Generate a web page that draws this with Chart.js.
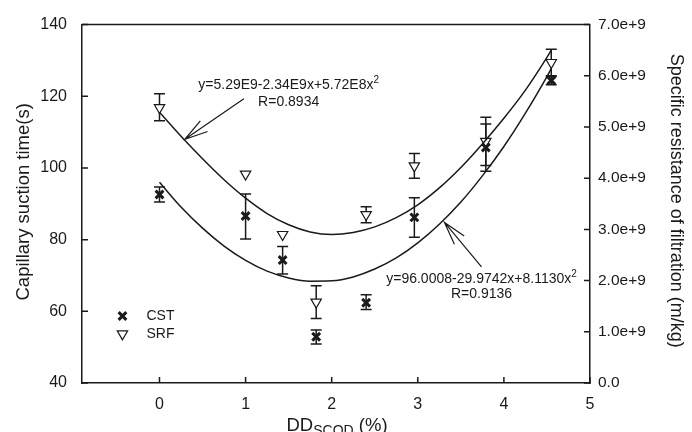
<!DOCTYPE html>
<html><head><meta charset="utf-8">
<script src="https://cdn.jsdelivr.net/npm/chart.js@4.4.0/dist/chart.umd.min.js"></script>
<style>html,body{margin:0;padding:0;background:#fff;}canvas{display:block;}</style>
</head><body>
<canvas id="c" width="692" height="432"></canvas>
<script>
// ---- tick labels ----
const xTicks = [0, 1, 2, 3, 4, 5];
const leftTicks = [40, 60, 80, 100, 120, 140];
const rightTicks = [0, 1e9, 2e9, 3e9, 4e9, 5e9, 6e9, 7e9];

// ---- measured points ----
const doseX = [0, 1.0, 1.43, 1.82, 2.40, 2.96, 3.79, 4.55];
const cstY = [92.6, 86.6, 74.3, 52.9, 62.4, 86.2, 105.7, 124.4];
const cstErrLow = [90.5, 80.2, 70.4, 50.9, 60.5, 80.7, 99.1, 123.2];
const cstErrHigh = [94.7, 92.7, 78.1, 54.8, 64.6, 91.7, 112.3, 125.5];
const srfY = [5.38e9, 4.08e9, 2.90e9, 1.58e9, 3.29e9, 4.24e9, 4.72e9, 6.26e9];
const srfErrLow = [5.12e9, null, null, 1.26e9, 3.13e9, 4.00e9, 4.25e9, 6.00e9];
const srfErrHigh = [5.65e9, null, null, 1.90e9, 3.44e9, 4.48e9, 5.19e9, 6.52e9];

// ---- fitted curves ----
const fitX = [0, 0.25, 0.5, 0.75, 1, 1.25, 1.5, 1.75, 2, 2.25, 2.5, 2.75, 3, 3.25, 3.5, 3.75, 4, 4.25, 4.5, 4.55];
const cstFitY = [96.0, 89.1, 83.2, 78.2, 74.2, 71.2, 69.3, 68.4, 68.5, 69.6, 71.8, 74.9, 79.1, 84.3, 90.5, 97.8, 106.0, 115.3, 125.5, 127.7];
const srfFitY = [5.29e9, 4.82e9, 4.38e9, 3.97e9, 3.61e9, 3.31e9, 3.09e9, 2.95e9, 2.90e9, 2.94e9, 3.05e9, 3.23e9, 3.48e9, 3.81e9, 4.21e9, 4.67e9, 5.17e9, 5.72e9, 6.36e9, 6.50e9];

// ---- series names & annotation texts ----
const seriesNames = ['CST', 'SRF'];
const srfEq = ['y=5.29E9-2.34E9x+5.72E8x', '2', 'R=0.8934'];
const cstEq = ['y=96.0008-29.9742x+8.1130x', '2', 'R=0.9136'];

const FONT = '"Liberation Sans", Arial, Helvetica, sans-serif';
const INK = '#1a1a1a';

const pts = (xs, ys) => xs.map((x, i) => ({x: x, y: ys[i]}));

const cstStyle = {pointStyle: 'crossRot', radius: 5.5, borderWidth: 3, rotation: 0};
const srfStyle = {pointStyle: 'triangle', radius: 6, borderWidth: 1.2, rotation: 180};

const errorBars = {
  id: 'errorBars',
  beforeDatasetsDraw(chart) {
    const {ctx, scales} = chart;
    const cap = 5.5;
    ctx.save();
    ctx.strokeStyle = INK; ctx.lineWidth = 1.5;
    const draw = (lo, hi, sy) => {
      doseX.forEach((x, i) => {
        if (lo[i] == null) return;
        const px = scales.x.getPixelForValue(x);
        const y1 = sy.getPixelForValue(lo[i]), y2 = sy.getPixelForValue(hi[i]);
        ctx.beginPath();
        ctx.moveTo(px, y1); ctx.lineTo(px, y2);
        ctx.moveTo(px - cap, y1); ctx.lineTo(px + cap, y1);
        ctx.moveTo(px - cap, y2); ctx.lineTo(px + cap, y2);
        ctx.stroke();
      });
    };
    draw(cstErrLow, cstErrHigh, scales.y);
    draw(srfErrLow, srfErrHigh, scales.y2);
    ctx.restore();
  }
};

const decor = {
  id: 'decor',
  afterDraw(chart) {
    const {ctx, chartArea: a, scales} = chart;
    const X = v => scales.x.getPixelForValue(v);
    const Y = v => scales.y.getPixelForValue(v);
    ctx.save();
    ctx.strokeStyle = INK; ctx.lineWidth = 1.5;
    // top border
    ctx.beginPath(); ctx.moveTo(a.left, a.top); ctx.lineTo(a.right, a.top); ctx.stroke();
    // inward ticks
    const tl = 6;
    ctx.beginPath();
    xTicks.forEach(v => { const p = X(v); ctx.moveTo(p, a.bottom); ctx.lineTo(p, a.bottom - tl); });
    leftTicks.forEach(v => { const p = Y(v); ctx.moveTo(a.left, p); ctx.lineTo(a.left + tl, p); });
    rightTicks.forEach(v => { const p = scales.y2.getPixelForValue(v); ctx.moveTo(a.right, p); ctx.lineTo(a.right - tl, p); });
    ctx.stroke();

    // arrows (annotation, in data coordinates of x / left y)
    const arrow = (from, to) => {
      const x1 = X(from[0]), y1 = Y(from[1]), x2 = X(to[0]), y2 = Y(to[1]);
      const ang = Math.atan2(y1 - y2, x1 - x2);
      const L = 24, s = 0.27;
      ctx.lineWidth = 1.2;
      ctx.beginPath();
      ctx.moveTo(x1, y1); ctx.lineTo(x2, y2);
      ctx.moveTo(x2 + L * Math.cos(ang - s), y2 + L * Math.sin(ang - s)); ctx.lineTo(x2, y2);
      ctx.lineTo(x2 + L * Math.cos(ang + s), y2 + L * Math.sin(ang + s));
      ctx.stroke();
    };
    arrow([0.98, 119.3], [0.295, 108.0]);
    arrow([3.74, 72.4], [3.31, 84.8]);

    // equations
    ctx.fillStyle = INK;
    const eq = (t, cx, base1, base2) => {
      ctx.textBaseline = 'alphabetic'; ctx.textAlign = 'left';
      ctx.font = '14px ' + FONT; const w1 = ctx.measureText(t[0]).width;
      ctx.font = '10px ' + FONT; const w2 = ctx.measureText(t[1]).width;
      const px = X(cx), start = px - (w1 + w2) / 2;
      ctx.font = '14px ' + FONT; ctx.fillText(t[0], start, Y(base1));
      ctx.font = '10px ' + FONT; ctx.fillText(t[1], start + w1, Y(base1) - 6);
      ctx.font = '14px ' + FONT; ctx.textAlign = 'center';
      ctx.fillText(t[2], px, Y(base2));
    };
    eq(srfEq, 1.50, 121.9, 117.3);
    eq(cstEq, 3.74, 67.8, 63.7);

    // legend
    const lx = X(-0.43);
    const rows = [[seriesNames[0], cstStyle, 58.7], [seriesNames[1], srfStyle, 53.7]];
    rows.forEach(([name, st, yv]) => {
      const py = Y(yv);
      ctx.strokeStyle = INK; ctx.fillStyle = '#fff'; ctx.lineWidth = st.borderWidth;
      Chart.helpers.drawPoint(ctx, st, lx, py);
      ctx.fillStyle = INK; ctx.font = '14px ' + FONT;
      ctx.textAlign = 'left'; ctx.textBaseline = 'middle';
      ctx.fillText(name, lx + 24, py);
    });

    // axis titles
    ctx.fillStyle = INK;
    ctx.font = '18.5px ' + FONT;
    ctx.textAlign = 'center'; ctx.textBaseline = 'middle';
    ctx.save(); ctx.translate(24, (a.top + a.bottom) / 2 - 2); ctx.rotate(-Math.PI / 2);
    ctx.fillText('Capillary suction time(s)', 0, 0); ctx.restore();
    ctx.save(); ctx.translate(676, (a.top + a.bottom) / 2 - 3); ctx.rotate(Math.PI / 2);
    ctx.font = '18px ' + FONT;
    ctx.fillText('Specific resistance of filtration (m/kg)', 0, 0); ctx.restore();
    // x title with subscript
    ctx.textBaseline = 'alphabetic'; ctx.textAlign = 'left';
    ctx.font = '18.5px ' + FONT; const wa = ctx.measureText('DD').width; const wc = ctx.measureText(' (%)').width;
    ctx.font = '14px ' + FONT; const wb = ctx.measureText('SCOD').width;
    const cx = (a.left + a.right) / 2 + 1, tot = wa + wb + wc, sx = cx - tot / 2, base = 430.5;
    ctx.font = '18.5px ' + FONT; ctx.fillText('DD', sx, base);
    ctx.font = '14px ' + FONT; ctx.fillText('SCOD', sx + wa, base + 4);
    ctx.font = '18.5px ' + FONT; ctx.fillText(' (%)', sx + wa + wb, base);
    ctx.restore();
  }
};

const tickFont = {family: FONT, size: 16};

new Chart(document.getElementById('c'), {
  type: 'scatter',
  data: {
    datasets: [
      {label: 'CST fit', data: pts(fitX, cstFitY), yAxisID: 'y', showLine: true, pointRadius: 0,
       borderColor: INK, borderWidth: 1.5, cubicInterpolationMode: 'monotone', fill: false},
      {label: 'SRF fit', data: pts(fitX, srfFitY), yAxisID: 'y2', showLine: true, pointRadius: 0,
       borderColor: INK, borderWidth: 1.5, cubicInterpolationMode: 'monotone', fill: false},
      {label: seriesNames[0], data: pts(doseX, cstY), yAxisID: 'y', pointStyle: cstStyle.pointStyle,
       pointRadius: cstStyle.radius, pointBorderWidth: cstStyle.borderWidth, borderColor: INK, backgroundColor: INK},
      {label: seriesNames[1], data: pts(doseX, srfY), yAxisID: 'y2', pointStyle: srfStyle.pointStyle,
       pointRotation: 180, pointRadius: srfStyle.radius, pointBorderWidth: srfStyle.borderWidth,
       borderColor: INK, backgroundColor: '#fff'}
    ]
  },
  options: {
    responsive: false, animation: false, devicePixelRatio: 1,
    layout: {padding: {top: 19, left: 0, right: 0, bottom: 0}},
    plugins: {legend: {display: false}, tooltip: {enabled: false}},
    scales: {
      x: {type: 'linear', position: 'bottom', min: -0.9, max: 5,
          grid: {display: false, drawTicks: false}, border: {display: true, color: INK, width: 1.5},
          ticks: {font: tickFont, color: INK, padding: 12, maxRotation: 0, callback: v => String(v)},
          afterBuildTicks: s => { s.ticks = xTicks.map(v => ({value: v})); },
          afterFit: s => { s.height = 49; }},
      y: {type: 'linear', position: 'left', min: 40, max: 140,
          grid: {display: false, drawTicks: false}, border: {display: true, color: INK, width: 1.5},
          ticks: {font: tickFont, color: INK, padding: 15, callback: v => String(v)},
          afterBuildTicks: s => { s.ticks = leftTicks.map(v => ({value: v})); },
          afterFit: s => { s.width = 82; }},
      y2: {type: 'linear', position: 'right', min: 0, max: 7e9,
          grid: {display: false, drawTicks: false}, border: {display: true, color: INK, width: 1.5},
          ticks: {font: {family: FONT, size: 15.5}, color: INK, padding: 8,
                  callback: v => v === 0 ? '0.0' : (v / 1e9).toFixed(1) + 'e+9'},
          afterBuildTicks: s => { s.ticks = rightTicks.map(v => ({value: v})); },
          afterFit: s => { s.width = 102; }}
    }
  },
  plugins: [errorBars, decor]
});
</script>
</body></html>
